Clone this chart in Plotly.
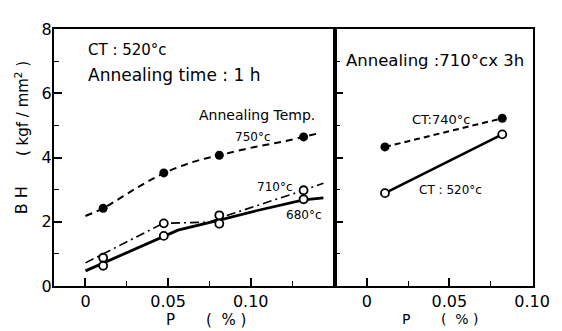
import plotly.graph_objects as go

# ---- left panel: CT 520°C, annealing time 1 h ----
p_left = [0.0107, 0.0474, 0.081, 0.132]
bh_750 = [2.42, 3.52, 4.07, 4.64]
bh_710 = [0.88, 1.95, 2.20, 2.98]
bh_680 = [0.63, 1.56, 1.94, 2.70]

# hand-drawn trend lines
fit750_p = [0.0, 0.011, 0.03, 0.047, 0.065, 0.081, 0.10, 0.12, 0.140]
fit750_bh = [2.18, 2.43, 3.02, 3.50, 3.86, 4.07, 4.30, 4.50, 4.74]
fit710_p = [0.0, 0.047, 0.075, 0.086, 0.132, 0.144]
fit710_bh = [0.72, 1.95, 1.99, 2.20, 2.98, 3.20]
fit680_p = [0.0, 0.011, 0.047, 0.056, 0.081, 0.104, 0.132, 0.144]
fit680_bh = [0.47, 0.72, 1.56, 1.74, 2.05, 2.35, 2.68, 2.74]

# ---- right panel: annealing 710°C x 3 h ----
p_right = [0.011, 0.082]
bh_ct740 = [4.33, 5.22]
bh_ct520 = [2.89, 4.72]

x_ticks = [0, 0.05, 0.10]
x_ticklabels = ["0", "0.05", "0.10"]
y_ticks = [0, 2, 4, 6, 8]
y_ticklabels = ["0", "2", "4", "6", "8"]

FONT = "DejaVu Sans"
BLACK = "black"

fig = go.Figure()

# left: trend lines
fig.add_trace(go.Scatter(x=fit750_p, y=fit750_bh, mode="lines", line_shape="spline",
                         line=dict(color=BLACK, width=2, dash="7px,5px"), xaxis="x", yaxis="y"))
fig.add_trace(go.Scatter(x=fit710_p, y=fit710_bh, mode="lines",
                         line=dict(color=BLACK, width=1.6, dash="9px,4px,2px,4px"), xaxis="x", yaxis="y"))
fig.add_trace(go.Scatter(x=fit680_p, y=fit680_bh, mode="lines",
                         line=dict(color=BLACK, width=2.8), xaxis="x", yaxis="y"))
# left: markers
fig.add_trace(go.Scatter(x=p_left, y=bh_750, mode="markers",
                         marker=dict(symbol="circle", size=9, color=BLACK), xaxis="x", yaxis="y"))
fig.add_trace(go.Scatter(x=p_left, y=bh_710, mode="markers",
                         marker=dict(symbol="circle", size=8, color="white", line=dict(color=BLACK, width=1.8)),
                         xaxis="x", yaxis="y"))
fig.add_trace(go.Scatter(x=p_left, y=bh_680, mode="markers",
                         marker=dict(symbol="circle", size=8, color="white", line=dict(color=BLACK, width=1.8)),
                         xaxis="x", yaxis="y"))

# right panel
fig.add_trace(go.Scatter(x=p_right, y=bh_ct740, mode="lines",
                         line=dict(color=BLACK, width=2, dash="6px,4px"), xaxis="x2", yaxis="y2"))
fig.add_trace(go.Scatter(x=p_right, y=bh_ct520, mode="lines",
                         line=dict(color=BLACK, width=2.6), xaxis="x2", yaxis="y2"))
fig.add_trace(go.Scatter(x=p_right, y=bh_ct740, mode="markers",
                         marker=dict(symbol="circle", size=9, color=BLACK), xaxis="x2", yaxis="y2"))
fig.add_trace(go.Scatter(x=p_right, y=bh_ct520, mode="markers",
                         marker=dict(symbol="circle", size=8, color="white", line=dict(color=BLACK, width=1.8)),
                         xaxis="x2", yaxis="y2"))

split = (340 - 54) / 487

common_x = dict(showline=True, linecolor=BLACK, linewidth=2, mirror=True, showgrid=False, zeroline=False,
                ticks="inside", ticklen=8, tickwidth=1.6, tickcolor=BLACK,
                tickvals=x_ticks, ticktext=x_ticklabels, ticklabelstandoff=0,
                tickfont=dict(family=FONT, size=16, color=BLACK),
                minor=dict(ticks="inside", ticklen=5, tickwidth=1.4, tickcolor=BLACK, dtick=0.025, tick0=0,
                           showgrid=False))
common_y = dict(showline=True, linecolor=BLACK, linewidth=2, mirror=True, showgrid=False, zeroline=False,
                range=[0, 8], ticks="inside", ticklen=8, tickwidth=1.6, tickcolor=BLACK,
                tickvals=y_ticks, ticktext=y_ticklabels, ticklabelstandoff=-3,
                tickfont=dict(family=FONT, size=16, color=BLACK),
                minor=dict(ticks="inside", ticklen=5, tickwidth=1.4, tickcolor=BLACK, dtick=1, tick0=0,
                           showgrid=False))

# the page body has an 8px margin, so the figure is sized to fill the rest of the window
fig.update_layout(
    width=554, height=323,
    margin=dict(l=46, r=21, t=13, b=45),
    paper_bgcolor="white", plot_bgcolor="white",
    showlegend=False,
    font=dict(family=FONT, color=BLACK),
    xaxis=dict(domain=[0, split], range=[-0.01905, 0.1512], anchor="y", **common_x),
    yaxis=dict(domain=[0, 1], anchor="x", **common_y),
    xaxis2=dict(domain=[split, 1], range=[-0.01905, 0.1006], anchor="y2", **common_x),
    yaxis2=dict(domain=[0, 1], anchor="x2", showticklabels=False, **common_y),
)


def fig_note(text, x, y, size, angle=0, anchor="center"):
    # x, y given in window pixels; converted to plot-area paper coords
    fx = (x - 54) / 487
    fy = (286 - y) / 265
    fig.add_annotation(text=text, x=fx, y=fy, xref="paper", yref="paper",
                       showarrow=False, textangle=angle, xanchor=anchor, yanchor="middle",
                       font=dict(family=FONT, size=size, color=BLACK))


fig_note("CT : 520°c", 87, 43, 15, anchor="left")
fig_note("Annealing time : 1 h", 87, 68, 17, anchor="left")
fig_note("Annealing Temp.", 260, 110, 14)
fig_note("750°c", 256, 132, 12)
fig_note("710°c", 279, 184, 12)
fig_note("680°c", 308, 213, 12)
fig_note("Annealing :710°cx 3h", 441, 53, 16.5)
fig_note("CT:740°c", 447, 114, 13)
fig_note("CT : 520°c", 457, 187, 12)
fig_note("B H", 21, 198, 16, -90)
fig_note("( kgf / mm<sup>2</sup> )", 21, 103, 15, -90)
fig_note("P", 172, 321, 15)
fig_note("(  % )", 229, 321, 15)
fig_note("P", 412, 320, 14)
fig_note("(  % )", 467, 320, 14)

fig.write_html("out.html")
